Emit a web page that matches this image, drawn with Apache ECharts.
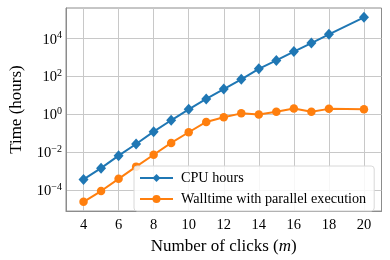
<!DOCTYPE html>
<html>
<head>
<meta charset="utf-8">
<script src="https://cdn.jsdelivr.net/npm/echarts@6/dist/echarts.min.js"></script>
<style>
html,body{margin:0;padding:0;background:#fff;}
#c{width:390px;height:260px;}
</style>
</head>
<body>
<div id="c"></div>
<script>
const clicks = [4,5,6,7,8,9,10,11,12,13,14,15,16,17,18,20];
const cpuHours = [3.8e-4,1.5e-3,6.8e-3,0.028,0.126,0.5,1.9,6.7,22,72,260,720,2100,5900,17000,1.35e5];
const walltime = [2.5e-5,9.3e-5,4.1e-4,1.8e-3,7.6e-3,0.032,0.117,0.41,0.73,1.16,1.0,1.4,2.1,1.4,2.0,1.9];
const xTicks = [4,6,8,10,12,14,16,18,20];
const yTicks = [1e-4,1e-2,1,1e2,1e4];
const seriesNames = ['CPU hours','Walltime with parallel execution'];

const FONT = 'Liberation Serif';
const chart = echarts.init(document.getElementById('c'));
function pairs(ys){ return clicks.map((x,i)=>[x,ys[i]]); }
function supLabel(v){
  const e = Math.round(Math.log10(v));
  const s = e < 0 ? '\u2212' + (-e) : String(e);
  return '{b|10}{s|' + s + '}';
}
chart.setOption({
  animation:false,
  grid:{left:57,right:8.5,top:8,bottom:41.5,show:true,borderColor:'#8c8c8c',borderWidth:1,backgroundColor:'transparent'},
  xAxis:{
    type:'value',min:3,max:21,
    name:'Number of clicks ({i|m})',nameLocation:'middle',nameGap:19,
    nameTextStyle:{fontFamily:FONT,fontSize:17,color:'#000',rich:{i:{fontFamily:FONT,fontStyle:'italic',fontSize:17,color:'#000'}}},
    axisLine:{show:true,lineStyle:{color:'#8c8c8c',width:1}},
    axisTick:{show:false,customValues:xTicks},
    axisLabel:{customValues:xTicks,fontFamily:FONT,fontSize:14.5,color:'#000',margin:7},
    splitLine:{show:true,lineStyle:{color:'#c8c8c8',width:1}}
  },
  yAxis:{
    type:'log',logBase:10,min:Math.pow(10,-5.09),max:Math.pow(10,5.62),
    name:'Time (hours)',nameLocation:'middle',nameGap:41,nameRotate:90,
    nameTextStyle:{fontFamily:FONT,fontSize:17,color:'#000'},
    axisLine:{show:true,lineStyle:{color:'#8c8c8c',width:1}},
    axisTick:{show:false,customValues:yTicks},
    axisLabel:{customValues:yTicks,formatter:supLabel,margin:4,
      rich:{b:{fontFamily:FONT,fontSize:14.5,color:'#000',lineHeight:17,verticalAlign:'bottom'},
            s:{fontFamily:FONT,fontSize:10,color:'#000',lineHeight:17,verticalAlign:'top'}}},
    splitLine:{show:true,lineStyle:{color:'#c8c8c8',width:1}}
  },
  legend:{
    orient:'vertical',left:134,top:166,
    data:seriesNames,
    itemWidth:33,itemHeight:10,itemGap:7,
    padding:[5,8,5,5],
    backgroundColor:'rgba(255,255,255,0.85)',borderColor:'#d8d8d8',borderWidth:1,borderRadius:3,
    textStyle:{fontFamily:FONT,fontSize:14.2,color:'#000',padding:[0,0,0,3]}
  },
  series:[
    {name:seriesNames[0],type:'line',data:pairs(cpuHours),color:'#1f77b4',
     symbol:'diamond',symbolSize:[10,11],lineStyle:{width:2},itemStyle:{color:'#1f77b4'},z:3},
    {name:seriesNames[1],type:'line',data:pairs(walltime),color:'#ff7f0e',
     symbol:'circle',symbolSize:8.5,lineStyle:{width:2},itemStyle:{color:'#ff7f0e'},z:2}
  ]
});
</script>
</body>
</html>
